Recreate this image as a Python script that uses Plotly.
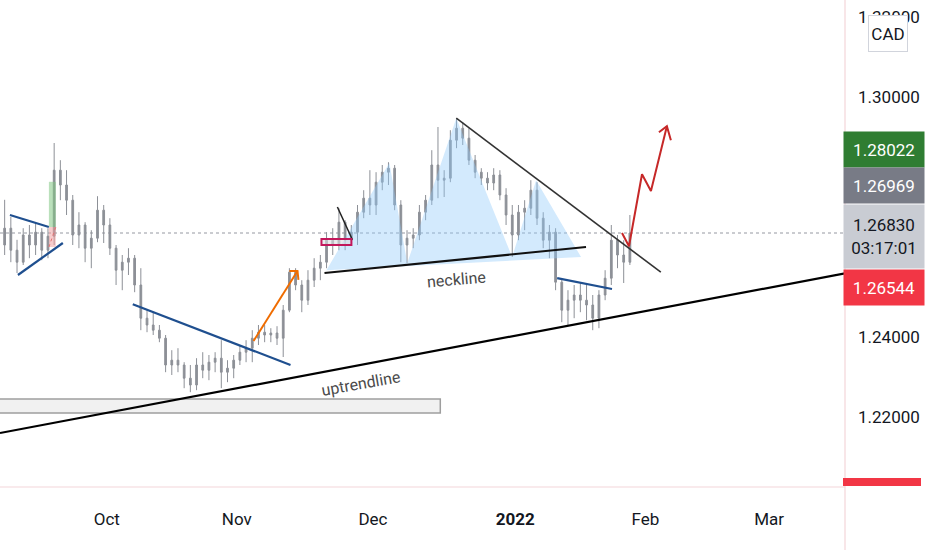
import plotly.graph_objects as go
import pandas as pd

# ---------------- data ----------------
dates = [d + pd.Timedelta(hours=12) for d in pd.bdate_range("2021-09-08", "2022-01-27")]

opens = [1.2630, 1.2672, 1.2617, 1.2587, 1.2655, 1.2630, 1.2662, 1.2617, 1.2652, 1.2817,
         1.2780, 1.2742, 1.2655, 1.2680, 1.2622, 1.2647, 1.2717, 1.2680, 1.2622, 1.2567,
         1.2587, 1.2597, 1.2530, 1.2447, 1.2430, 1.2417, 1.2397, 1.2330, 1.2342, 1.2330,
         1.2297, 1.2280, 1.2330, 1.2317, 1.2337, 1.2347, 1.2312, 1.2322, 1.2342, 1.2362,
         1.2372, 1.2397, 1.2412, 1.2405, 1.2410, 1.2397, 1.2467, 1.2562, 1.2530, 1.2492,
         1.2542, 1.2572, 1.2587, 1.2642, 1.2630, 1.2687, 1.2642, 1.2662, 1.2712, 1.2747,
         1.2730, 1.2787, 1.2812, 1.2822, 1.2730, 1.2630, 1.2647, 1.2655, 1.2712, 1.2742,
         1.2830, 1.2792, 1.2797, 1.2892, 1.2922, 1.2897, 1.2842, 1.2812, 1.2797, 1.2785,
         1.2805, 1.2755, 1.2705, 1.2655, 1.2712, 1.2722, 1.2767, 1.2697, 1.2642, 1.2662,
         1.2537, 1.2467, 1.2492, 1.2505, 1.2492, 1.2480, 1.2447, 1.2505, 1.2547, 1.2642,
         1.2605, 1.2587]
highs = [1.2743, 1.2700, 1.2643, 1.2672, 1.2680, 1.2687, 1.2672, 1.2672, 1.2885, 1.2842,
         1.2817, 1.2755, 1.2712, 1.2687, 1.2667, 1.2752, 1.2730, 1.2697, 1.2630, 1.2605,
         1.2622, 1.2605, 1.2572, 1.2467, 1.2462, 1.2430, 1.2405, 1.2367, 1.2372, 1.2337,
         1.2330, 1.2347, 1.2362, 1.2355, 1.2362, 1.2392, 1.2342, 1.2355, 1.2380, 1.2392,
         1.2417, 1.2430, 1.2430, 1.2422, 1.2427, 1.2480, 1.2572, 1.2572, 1.2542, 1.2567,
         1.2597, 1.2605, 1.2662, 1.2672, 1.2722, 1.2692, 1.2680, 1.2730, 1.2767, 1.2817,
         1.2812, 1.2830, 1.2837, 1.2830, 1.2742, 1.2667, 1.2672, 1.2730, 1.2755, 1.2867,
         1.2925, 1.2817, 1.2917, 1.2947, 1.2937, 1.2922, 1.2855, 1.2822, 1.2812, 1.2822,
         1.2817, 1.2772, 1.2730, 1.2730, 1.2742, 1.2792, 1.2787, 1.2712, 1.2680, 1.2672,
         1.2547, 1.2517, 1.2530, 1.2535, 1.2530, 1.2505, 1.2517, 1.2567, 1.2680, 1.2655,
         1.2642, 1.2705]
lows = [1.2605, 1.2587, 1.2560, 1.2580, 1.2597, 1.2605, 1.2592, 1.2597, 1.2630, 1.2742,
        1.2705, 1.2630, 1.2622, 1.2587, 1.2572, 1.2637, 1.2635, 1.2605, 1.2530, 1.2517,
        1.2555, 1.2512, 1.2417, 1.2412, 1.2405, 1.2387, 1.2312, 1.2305, 1.2312, 1.2272,
        1.2262, 1.2267, 1.2297, 1.2292, 1.2312, 1.2272, 1.2287, 1.2297, 1.2330, 1.2337,
        1.2337, 1.2380, 1.2387, 1.2387, 1.2380, 1.2350, 1.2462, 1.2517, 1.2462, 1.2480,
        1.2525, 1.2542, 1.2572, 1.2605, 1.2617, 1.2617, 1.2630, 1.2630, 1.2697, 1.2705,
        1.2705, 1.2767, 1.2780, 1.2717, 1.2587, 1.2585, 1.2622, 1.2642, 1.2692, 1.2730,
        1.2747, 1.2750, 1.2787, 1.2872, 1.2880, 1.2830, 1.2797, 1.2780, 1.2767, 1.2767,
        1.2742, 1.2680, 1.2600, 1.2642, 1.2667, 1.2705, 1.2680, 1.2622, 1.2597, 1.2517,
        1.2437, 1.2430, 1.2447, 1.2462, 1.2442, 1.2417, 1.2422, 1.2492, 1.2530, 1.2572,
        1.2535, 1.2580]
closes = [1.2672, 1.2617, 1.2587, 1.2655, 1.2630, 1.2662, 1.2617, 1.2652, 1.2817, 1.2780,
          1.2742, 1.2655, 1.2680, 1.2622, 1.2647, 1.2717, 1.2680, 1.2622, 1.2567, 1.2587,
          1.2597, 1.2530, 1.2447, 1.2430, 1.2417, 1.2397, 1.2330, 1.2342, 1.2330, 1.2297,
          1.2280, 1.2330, 1.2317, 1.2337, 1.2347, 1.2312, 1.2322, 1.2342, 1.2362, 1.2372,
          1.2397, 1.2412, 1.2405, 1.2410, 1.2397, 1.2467, 1.2562, 1.2530, 1.2492, 1.2542,
          1.2572, 1.2587, 1.2642, 1.2630, 1.2687, 1.2642, 1.2662, 1.2712, 1.2747, 1.2730,
          1.2787, 1.2812, 1.2822, 1.2730, 1.2630, 1.2647, 1.2655, 1.2712, 1.2742, 1.2830,
          1.2792, 1.2797, 1.2892, 1.2922, 1.2897, 1.2842, 1.2812, 1.2797, 1.2785, 1.2805,
          1.2755, 1.2705, 1.2655, 1.2712, 1.2722, 1.2767, 1.2697, 1.2642, 1.2662, 1.2537,
          1.2467, 1.2492, 1.2505, 1.2492, 1.2480, 1.2447, 1.2505, 1.2547, 1.2642, 1.2605,
          1.2587, 1.2660]

x_range = ["2021-09-07 18:00", "2022-03-17 06:00"]
y_range = [1.2025, 1.32425]

tick_dates = ["2021-10-01", "2021-11-01", "2021-12-01", "2022-01-03", "2022-02-01", "2022-03-01"]
tick_text = ["Oct", "Nov", "Dec", "<b>2022</b>", "Feb", "Mar"]
# 1.26000 and 1.28000 sit under the price labels in the reference, so only these show
price_ticks = [1.22, 1.24, 1.30, 1.32]
price_tick_text = ["1.22000", "1.24000", "1.30000", "1.32000"]

# drawings (date, price anchors)
uptrend_x = ["2021-09-07 18:00", "2022-03-17 06:00"]
uptrend_y = [1.2160, 1.2559]
neck_x = ["2021-11-19 04:00", "2022-01-18 10:00"]
neck_y = [1.2560, 1.2625]
down_x = ["2021-12-20 11:00", "2022-02-03 12:00"]
down_y = [1.2947, 1.2562]
hs_x = ["2021-11-19 11:30", "2021-12-03 15:30", "2021-12-08 13:00", "2021-12-20 11:00",
        "2021-12-31 11:30", "2022-01-06 08:30", "2022-01-17 14:40"]
hs_y = [1.2567, 1.2835, 1.2585, 1.2947, 1.2600, 1.2792, 1.2600]
tri_up_x = ["2021-09-09 08:30", "2021-09-17 15:30"]
tri_up_y = [1.2705, 1.2675]
tri_lo_x = ["2021-09-10 15:30", "2021-09-21 21:40"]
tri_lo_y = [1.2555, 1.2635]
oct_x = ["2021-10-07 04:40", "2021-11-11 16:15"]
oct_y = [1.2482, 1.2330]
jan_x = ["2022-01-11 18:00", "2022-01-24 14:40"]
jan_y = [1.2547, 1.2520]
small_x = ["2021-11-23 06:00", "2021-11-25 16:15"]
small_y = [1.2725, 1.2643]
orange_x = ["2021-11-03 17:00", "2021-11-12 19:20"]
orange_y = [1.2390, 1.2565]
orange_head_x = ["2021-11-11 12:20", "2021-11-12 19:20", "2021-11-12 23:00"]
orange_head_y = [1.2565, 1.2565, 1.2543]
red_x = ["2022-01-26 05:30", "2022-01-27 08:30", "2022-01-31 11:00", "2022-02-01 21:40", "2022-02-04 11:30"]
red_y = [1.2660, 1.2627, 1.2807, 1.2765, 1.2927]
red_head_x = ["2022-02-03 04:40", "2022-02-04 11:30", "2022-02-07 03:00"]
red_head_y = [1.2912, 1.2927, 1.2892]
long_x = ["2021-09-17 15:30", "2021-09-20 18:30"]
long_profit_y = [1.2675, 1.2788]
long_stop_y = [1.2625, 1.2675]
pink_box_x = ["2021-11-18 16:15", "2021-11-25 12:20"]
pink_box_y = [1.2630, 1.2645]
zone_x = ["2021-08-20", "2021-12-15 21:00"]
zone_y = [1.2210, 1.2245]

# right-scale price labels (text, colour, font colour, displayed centre price, height px)
label_text = ["1.28022", "1.26969", "1.26830<br>03:17:01", "1.26544"]
label_bg = ["#2f7d32", "#787b86", "#c9ccd3", "#f23645"]
label_fg = ["#ffffff", "#ffffff", "#131722", "#ffffff"]
label_pos = [1.28675, 1.27788, 1.26513, 1.25238]
label_h = [35, 35, 63, 35]

FONT = "Roboto"
BLUE = "#1f4f8f"

fig = go.Figure()

fig.add_trace(go.Scatter(x=hs_x, y=hs_y, fill="toself", mode="lines",
                         line=dict(width=0), fillcolor="rgba(144,202,249,0.40)",
                         hoverinfo="skip"))

fig.add_trace(go.Candlestick(
    x=dates, open=opens, high=highs, low=lows, close=closes,
    increasing=dict(line=dict(color="#8d9097", width=1), fillcolor="#8d9097"),
    decreasing=dict(line=dict(color="#8d9097", width=1), fillcolor="#8d9097"),
    whiskerwidth=0))

def seg(x, y, color, width):
    fig.add_trace(go.Scatter(x=x, y=y, mode="lines", line=dict(color=color, width=width),
                             hoverinfo="skip"))

seg(uptrend_x, uptrend_y, "#000000", 2.2)
seg(neck_x, neck_y, "#111111", 2.2)
seg(down_x, down_y, "#333333", 1.6)
seg(tri_up_x, tri_up_y, BLUE, 2.2)
seg(tri_lo_x, tri_lo_y, BLUE, 2.2)
seg(oct_x, oct_y, BLUE, 2.2)
seg(jan_x, jan_y, BLUE, 2.2)
seg(small_x, small_y, "#222222", 1.5)
seg(orange_x, orange_y, "#ef6c00", 2)
seg(orange_head_x, orange_head_y, "#ef6c00", 2)
seg(red_x, red_y, "#c62828", 2)
seg(red_head_x, red_head_y, "#c62828", 2)

shapes = []
shapes.append(dict(type="rect", xref="x", yref="y", x0=zone_x[0], x1=zone_x[1],
                   y0=zone_y[0], y1=zone_y[1], fillcolor="#f1f1f1",
                   line=dict(color="#9e9e9e", width=1.5), layer="below"))
shapes.append(dict(type="rect", xref="x", yref="y", x0=long_x[0], x1=long_x[1],
                   y0=long_profit_y[0], y1=long_profit_y[1],
                   fillcolor="rgba(129,199,132,0.55)", line=dict(width=0), layer="above"))
shapes.append(dict(type="rect", xref="x", yref="y", x0=long_x[0], x1=long_x[1],
                   y0=long_stop_y[0], y1=long_stop_y[1],
                   fillcolor="rgba(239,154,154,0.5)", line=dict(width=0), layer="above"))
shapes.append(dict(type="line", xref="x", yref="y", x0=long_x[0], x1=long_x[1],
                   y0=long_stop_y[0], y1=long_stop_y[1],
                   line=dict(color="#e57373", width=1, dash="dot"), layer="above"))
shapes.append(dict(type="rect", xref="x", yref="y", x0=pink_box_x[0], x1=pink_box_x[1],
                   y0=pink_box_y[0], y1=pink_box_y[1],
                   fillcolor="rgba(220,220,225,0.6)", line=dict(color="#c2185b", width=2),
                   layer="above"))
# current price dotted line
shapes.append(dict(type="line", xref="paper", yref="y", x0=0, x1=1,
                   y0=closes[-1], y1=closes[-1],
                   line=dict(color="#9598a1", width=1, dash="dot"), layer="below"))
# separators of the price / time scales
shapes.append(dict(type="line", xref="paper", yref="paper", x0=1, x1=1, y0=-0.13, y1=1,
                   line=dict(color="#f3d6d9", width=1.2)))
shapes.append(dict(type="line", xref="paper", yref="paper", x0=0, x1=1, y0=0, y1=0,
                   line=dict(color="#f3d6d9", width=1.2)))
span = y_range[1] - y_range[0]
# partly hidden label at the bottom of the price scale
shapes.append(dict(type="rect", xref="paper", yref="paper", x0=843 / 845, x1=921 / 845,
                   y0=0.002, y1=0.0185, fillcolor="#f23645", line=dict(width=0)))

annotations = []
annotations.append(dict(x="2021-12-20 11:00", y=1.2543, xref="x", yref="y", text="neckline",
                        showarrow=False, textangle=-5,
                        font=dict(family=FONT, size=16, color="#4a4a4a")))
annotations.append(dict(x="2021-11-29 03:00", y=1.2283, xref="x", yref="y", text="uptrendline",
                        showarrow=False, textangle=-10,
                        font=dict(family=FONT, size=16, color="#4a4a4a")))
for t, bg, fg, p, h in zip(label_text, label_bg, label_fg, label_pos, label_h):
    annotations.append(dict(x=843 / 845, y=(p - y_range[0]) / span, xref="paper", yref="paper",
                            xanchor="left", yanchor="middle", text=t, showarrow=False,
                            bgcolor=bg, width=80, height=h, borderpad=0, align="center",
                            font=dict(family=FONT, size=17, color=fg)))
annotations.append(dict(x=888 / 845, y=1 - 33.5 / 487, xref="paper", yref="paper",
                        xanchor="center", yanchor="middle", text="CAD", showarrow=False,
                        bgcolor="#ffffff", bordercolor="#d1d4dc", borderwidth=1,
                        width=38, height=35, borderpad=0,
                        font=dict(family=FONT, size=17, color="#131722")))

fig.update_layout(
    width=932, height=550,
    margin=dict(l=0, r=87, t=0, b=63),
    paper_bgcolor="#ffffff", plot_bgcolor="#ffffff",
    showlegend=False, boxgap=0.6,
    shapes=shapes, annotations=annotations,
    font=dict(family=FONT, size=17, color="#131722"),
    xaxis=dict(type="date", range=x_range, rangebreaks=[dict(bounds=["sat", "mon"])],
               tickvals=tick_dates, ticktext=tick_text, showgrid=False, zeroline=False,
               showline=False, ticks="", ticklabelstandoff=20,
               tickfont=dict(family=FONT, size=17, color="#131722"),
               rangeslider=dict(visible=False), fixedrange=True),
    yaxis=dict(side="right", range=y_range, tickvals=price_ticks, ticktext=price_tick_text,
               showgrid=False, zeroline=False, showline=False, ticks="",
               ticklabelstandoff=12,
               tickfont=dict(family=FONT, size=17, color="#131722"), fixedrange=True),
)

fig.write_html("out.html", config={"displayModeBar": False},
               post_script="document.body.style.margin='0';")
